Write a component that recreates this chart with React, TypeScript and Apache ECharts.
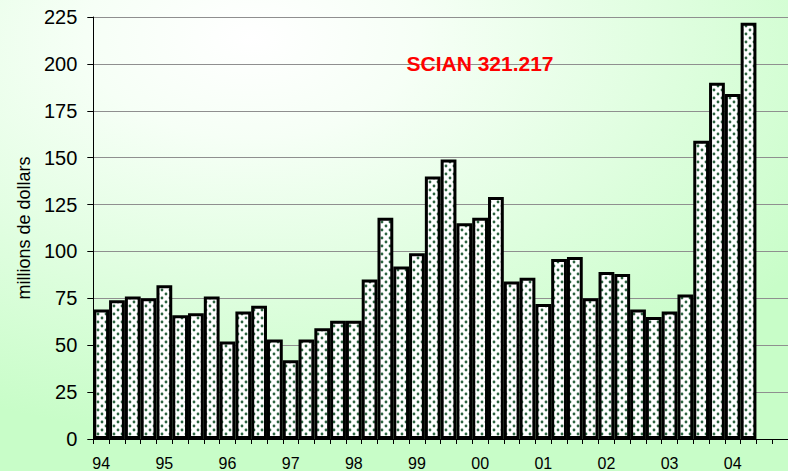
import React, { useEffect, useRef } from "react";
import * as echarts from "echarts";

const years = ["94", "95", "96", "97", "98", "99", "00", "01", "02", "03", "04"];
const quarters = ["T1", "T2", "T3", "T4"];
const values: (number | null)[] = [
  69, 74, 76, 75,
  82, 66, 67, 76,
  52, 68, 71, 53,
  42, 53, 59, 63,
  63, 85, 118, 92,
  99, 140, 149, 115,
  118, 129, 84, 86,
  72, 96, 97, 75,
  89, 88, 69, 65,
  68, 77, 159, 190,
  184, 222, null, null,
];
const yTicks = [0, 25, 50, 75, 100, 125, 150, 175, 200, 225];
const title = "SCIAN 321.217";
const yName = "millions de dollars";

const categories: string[] = [];
years.forEach((y) => quarters.forEach((q) => categories.push(y + "|" + q)));

export default function App() {
  const ref = useRef<HTMLDivElement>(null);
  useEffect(() => {
    document.body.style.margin = "0";
    if (!ref.current) return;
    const chart = echarts.init(ref.current, null, { renderer: "svg" });

    const cv = document.createElement("canvas");
    cv.width = 8;
    cv.height = 8;
    const ctx = cv.getContext("2d")!;
    ctx.fillStyle = "#ffffff";
    ctx.fillRect(0, 0, 8, 8);
    ctx.fillStyle = "#2c6440";
    ctx.beginPath();
    ctx.arc(2, 2, 1.4, 0, Math.PI * 2);
    ctx.fill();
    ctx.beginPath();
    ctx.arc(6, 6, 1.4, 0, Math.PI * 2);
    ctx.fill();

    const narrow = "'Liberation Sans Narrow', 'Liberation Sans', Arial, sans-serif";

    chart.setOption({
      animation: false,
      backgroundColor: {
        type: "radial",
        x: 0.32,
        y: 0.08,
        r: 0.85,
        colorStops: [
          { offset: 0, color: "#ffffff" },
          { offset: 0.25, color: "#f6fff6" },
          { offset: 1, color: "#c8fdc8" },
        ],
      },
      grid: { left: 93.3, top: 17, width: 44 * 15.83, height: 422, containLabel: false },
      graphic: [
        {
          type: "text",
          x: 480,
          y: 63,
          style: {
            text: title,
            fill: "#ff0000",
            font: "bold 21px 'Liberation Sans', Arial, sans-serif",
            textAlign: "center",
            textVerticalAlign: "middle",
          },
          z: 100,
        },
      ],
      xAxis: {
        type: "category",
        data: categories,
        boundaryGap: true,
        axisLine: { show: true, lineStyle: { color: "#000", width: 1 } },
        axisTick: { show: true, interval: 0, length: 5, lineStyle: { color: "#000" } },
        axisLabel: {
          interval: 0,
          margin: 16,
          color: "#000",
          fontSize: 16,
          fontFamily: narrow,
          formatter: (v: string) => {
            const [y, q] = v.split("|");
            return q === "T1" ? y : "";
          },
        },
        splitLine: { show: false },
      },
      yAxis: {
        type: "value",
        min: 0,
        max: 225,
        interval: 25,
        name: yName,
        nameLocation: "middle",
        nameRotate: 90,
        nameGap: 58,
        nameTextStyle: { color: "#000", fontSize: 18, fontFamily: narrow },
        axisLine: { show: true, lineStyle: { color: "#000", width: 1 } },
        axisTick: { show: true, length: 6, lineStyle: { color: "#000" } },
        axisLabel: {
          margin: 16,
          color: "#000",
          fontSize: 20,
          fontFamily: narrow,
          formatter: (v: number) => (yTicks.includes(v) ? String(v) : ""),
        },
        splitLine: { show: true, lineStyle: { color: "#8f8f8f", width: 1 } },
      },
      series: [
        {
          type: "bar",
          data: values,
          barWidth: "100%",
          barCategoryGap: "0%",
          itemStyle: {
            color: { image: cv, repeat: "repeat" },
            borderColor: "#000",
            borderWidth: 3,
          },
        },
      ],
    });
    return () => chart.dispose();
  }, []);
  return <div ref={ref} style={{ width: 788, height: 471, overflow: "hidden" }} />;
}
